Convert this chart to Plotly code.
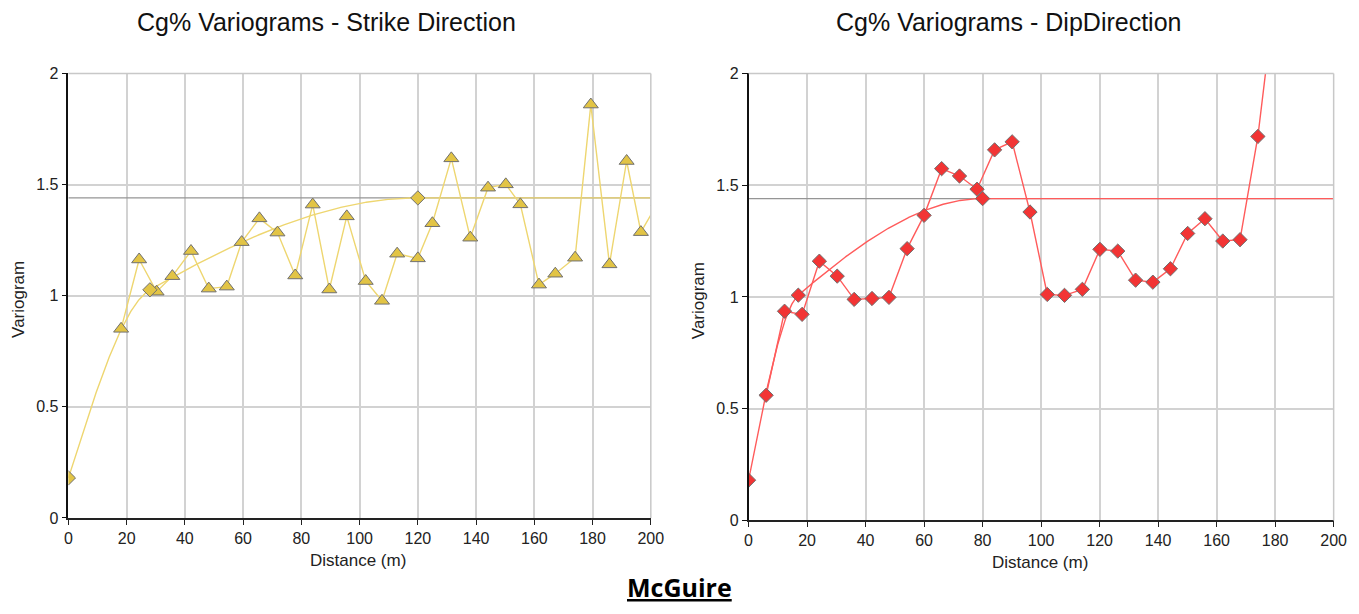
import numpy as np
import plotly.graph_objects as go

# ---- Experimental variogram: strike direction (lag distance m, gamma) ----
strike_lag = [18.1, 24.3, 30.3, 35.7, 42.1, 48.2, 54.4, 59.5, 65.6, 71.8, 77.9,
              83.9, 89.6, 95.6, 102.1, 107.7, 112.9, 120.0, 125.0, 131.5, 138.0,
              144.1, 150.2, 155.2, 161.6, 167.2, 174.0, 179.4, 185.8, 191.7,
              196.6, 202.5]
strike_gamma = [0.851, 1.163, 1.018, 1.088, 1.201, 1.032, 1.041, 1.241, 1.348,
                1.284, 1.091, 1.410, 1.028, 1.357, 1.066, 0.977, 1.189, 1.168,
                1.326, 1.618, 1.261, 1.486, 1.501, 1.411, 1.050, 1.099, 1.171,
                1.860, 1.141, 1.606, 1.286, 1.42]

# ---- Experimental variogram: dip direction ----
dip_lag = [6.0, 12.3, 18.3, 24.2, 30.3, 36.1, 42.2, 48.0, 54.2, 60.0, 66.0,
           72.1, 78.1, 84.1, 90.1, 96.2, 102.1, 108.0, 114.1, 120.1, 126.2,
           132.3, 138.2, 144.2, 150.1, 156.0, 162.1, 168.0, 174.1, 180.0]
dip_gamma = [0.560, 0.936, 0.922, 1.160, 1.093, 0.989, 0.993, 0.998, 1.216,
             1.365, 1.574, 1.541, 1.482, 1.658, 1.694, 1.380, 1.011, 1.007,
             1.034, 1.213, 1.205, 1.075, 1.066, 1.126, 1.284, 1.350, 1.250,
             1.256, 1.718, 2.36]

# ---- Fitted model: nugget + two nested spherical structures ----
nugget = 0.18
sill_1 = 0.63
sill_2 = 0.63
strike_ranges = [28.0, 120.0]
dip_ranges = [17.0, 80.0]
total_sill = nugget + sill_1 + sill_2

x_ticks = [0, 20, 40, 60, 80, 100, 120, 140, 160, 180, 200]
y_ticks = [0, 0.5, 1, 1.5, 2]
y_tick_text = ["0", "0.5", "1", "1.5", "2"]


def spherical(h, a):
    r = np.minimum(np.asarray(h, dtype=float) / a, 1.0)
    return 1.5 * r - 0.5 * r ** 3


def model(h, ranges):
    return nugget + sill_1 * spherical(h, ranges[0]) + sill_2 * spherical(h, ranges[1])


h_dense = np.linspace(0, 200, 801)

YELLOW_LINE = "#EED670"
YELLOW_FILL = "#E2C445"
RED_LINE = "#FF5B5B"
RED_FILL = "#F23434"
OUTLINE = "#707070"
GRID = "#d2d2d2"
SILL_GRAY = "#959595"
FONT = "Liberation Sans, Arial, sans-serif"

fig = go.Figure()


def add_panel(xa, ya, lags, gammas, ranges, line_col, fill_col, exp_symbol):
    # sill reference line
    fig.add_trace(go.Scatter(x=[0, 200], y=[total_sill, total_sill], mode="lines",
                             line=dict(color=SILL_GRAY, width=1.2),
                             xaxis=xa, yaxis=ya, hoverinfo="skip"))
    # model curve
    fig.add_trace(go.Scatter(x=h_dense, y=model(h_dense, ranges), mode="lines",
                             line=dict(color=line_col, width=1.4),
                             xaxis=xa, yaxis=ya, hoverinfo="skip"))
    # experimental points
    fig.add_trace(go.Scatter(x=lags, y=gammas, mode="lines+markers",
                             line=dict(color=line_col, width=1.4),
                             marker=dict(symbol=exp_symbol,
                                         size=13 if exp_symbol != "diamond" else 11,
                                         color=fill_col,
                                         line=dict(color=OUTLINE, width=1)),
                             xaxis=xa, yaxis=ya))
    # model structure nodes (nugget, first and second range)
    node_x = [0.0] + list(ranges)
    fig.add_trace(go.Scatter(x=node_x, y=model(node_x, ranges), mode="markers",
                             marker=dict(symbol="diamond", size=11, color=fill_col,
                                         line=dict(color=OUTLINE, width=1)),
                             xaxis=xa, yaxis=ya))


add_panel("x", "y", strike_lag, strike_gamma, strike_ranges, YELLOW_LINE, YELLOW_FILL, "triangle-up")
add_panel("x2", "y2", dip_lag, dip_gamma, dip_ranges, RED_LINE, RED_FILL, "diamond")

tick_font = dict(family=FONT, size=16, color="#222222")

xa_common = dict(range=[0, 200], tickvals=x_ticks, ticktext=[str(v) for v in x_ticks],
                 showgrid=True, gridcolor=GRID, gridwidth=1.5, zeroline=False,
                 showline=True, linecolor="#222222", linewidth=1.5,
                 ticks="outside", ticklen=5, tickcolor="#222222", tickwidth=1,
                 tickfont=tick_font, fixedrange=True)
ya_common = dict(range=[0, 2], tickvals=y_ticks, ticktext=y_tick_text,
                 showgrid=True, gridcolor=GRID, gridwidth=1.5, zeroline=False,
                 showline=True, linecolor="#111111", linewidth=1.5,
                 ticks="outside", ticklen=5, tickcolor="#111111", tickwidth=1,
                 tickfont=tick_font, fixedrange=True)

W, H = 1359, 614


def fx(xp):
    return xp / W


def fy(yp):
    return 1 - yp / H


fig.update_layout(
    width=W, height=H,
    margin=dict(l=0, r=0, t=0, b=0),
    paper_bgcolor="white", plot_bgcolor="white",
    showlegend=False,
    xaxis=dict(xa_common, domain=[fx(65.2), fx(655.0)], anchor="y"),
    yaxis=dict(ya_common, domain=[fy(524.5), fy(67.3)], anchor="x"),
    xaxis2=dict(xa_common, domain=[fx(754.0), fx(1346.5)], anchor="y2"),
    yaxis2=dict(ya_common, domain=[fy(527.0), fy(67.3)], anchor="x2"),
)

# top and right plot borders
for xr, yr in (("x", "y"), ("x2", "y2")):
    fig.add_shape(type="line", xref=f"{xr} domain", yref=f"{yr} domain",
                  x0=0, x1=1, y0=1, y1=1, line=dict(color="#c8c8c8", width=1.5))
    fig.add_shape(type="line", xref=f"{xr} domain", yref=f"{yr} domain",
                  x0=1, x1=1, y0=0, y1=1, line=dict(color="#c8c8c8", width=1.5))

title_font = dict(family=FONT, size=25, color="#111111")
label_font = dict(family=FONT, size=17, color="#222222")

annots = [
    ("Cg% Variograms - Strike Direction", 326.7, 13.9, title_font, 0),
    ("Cg% Variograms - DipDirection", 1017.7, 13.9, title_font, 0),
    ("Distance (m)", 358.2, 568.5, label_font, 0),
    ("Distance (m)", 1049.1, 570.5, label_font, 0),
    ("Variogram", 14.7, 299.7, label_font, -90),
    ("Variogram", 703.6, 300.7, label_font, -90),
]
for text, xp, yp, font, ang in annots:
    fig.add_annotation(text=text, x=fx(xp), y=fy(yp), xref="paper", yref="paper",
                       xanchor="center", yanchor="middle", showarrow=False,
                       font=font, textangle=ang)

# site caption, kept inside the bottom edge of the page
fig.add_annotation(text="<b><u>McGuire</u></b>", x=fx(683.9), y=0,
                   xref="paper", yref="paper",
                   xanchor="center", yanchor="bottom", showarrow=False, borderpad=0,
                   font=dict(family="Open Sans, sans-serif", size=25, color="#000000"))

fig.write_html("out.html", config={"displayModeBar": False})
